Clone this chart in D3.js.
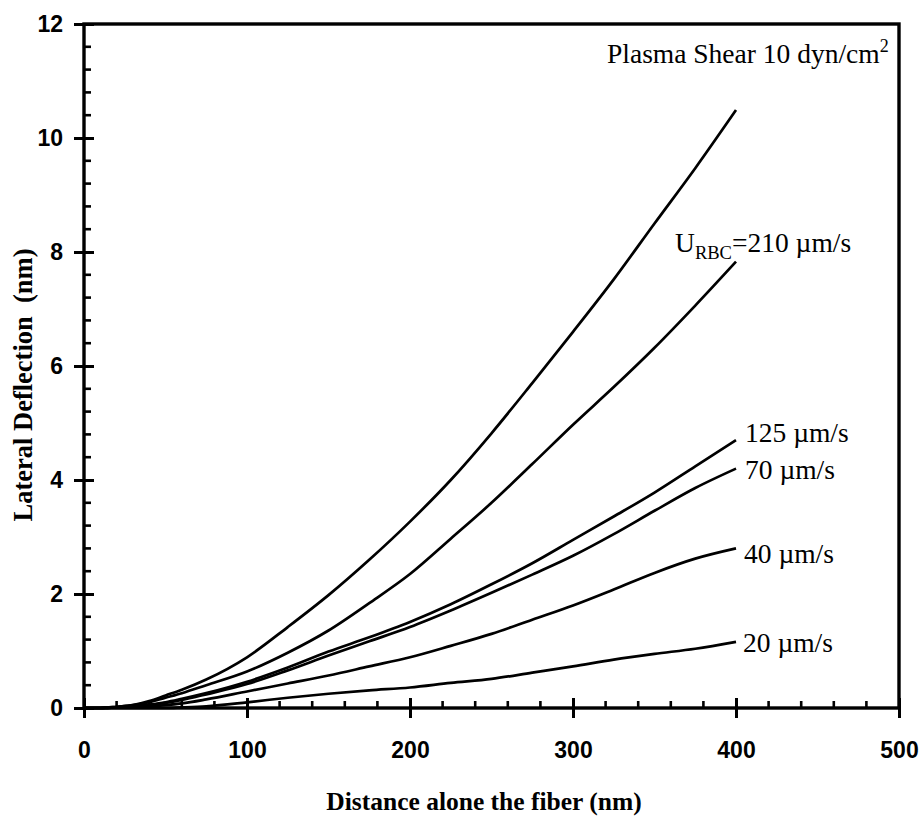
<!DOCTYPE html>
<html>
<head>
<meta charset="utf-8">
<script src="https://cdn.jsdelivr.net/npm/d3@7"></script>
<style>
  html, body { margin: 0; padding: 0; background: #fff; }
  svg { display: block; }
</style>
</head>
<body>
<svg id="chart" width="924" height="820"></svg>
<script>
// ---- data ----
const xValues = [0, 10, 20, 30, 40, 50, 60, 75, 100, 125, 150, 175, 200, 225, 250, 275, 300, 325, 350, 375, 400];
const plasmaShear = [0, 0, 0.02, 0.05, 0.12, 0.22, 0.32, 0.5, 0.89, 1.42, 1.98, 2.6, 3.27, 4.0, 4.82, 5.7, 6.6, 7.52, 8.5, 9.47, 10.49];
const u210 = [0, 0, 0.02, 0.05, 0.1, 0.18, 0.26, 0.4, 0.64, 0.97, 1.36, 1.84, 2.35, 2.97, 3.6, 4.28, 4.97, 5.63, 6.32, 7.06, 7.83];
const u125 = [0, 0, 0.01, 0.03, 0.06, 0.1, 0.16, 0.26, 0.46, 0.71, 0.99, 1.24, 1.51, 1.82, 2.17, 2.54, 2.95, 3.36, 3.78, 4.24, 4.70];
const u70 = [0, 0, 0.01, 0.03, 0.05, 0.09, 0.14, 0.24, 0.42, 0.66, 0.92, 1.17, 1.42, 1.71, 2.02, 2.34, 2.67, 3.05, 3.46, 3.86, 4.2];
const u40 = [0, 0, 0.01, 0.02, 0.03, 0.05, 0.08, 0.15, 0.29, 0.43, 0.57, 0.73, 0.89, 1.09, 1.30, 1.55, 1.80, 2.08, 2.37, 2.62, 2.80];
const u20 = [0, 0, 0, 0, 0, 0, 0.01, 0.03, 0.1, 0.18, 0.25, 0.31, 0.36, 0.44, 0.51, 0.62, 0.73, 0.85, 0.95, 1.04, 1.16];
const seriesNames = ["Plasma Shear 10 dyn/cm2", "URBC=210 µm/s", "125 µm/s", "70 µm/s", "40 µm/s", "20 µm/s"];
const xMajorTicks = [0, 100, 200, 300, 400, 500];
const yMajorTicks = [0, 2, 4, 6, 8, 10, 12];
const xMinorStep = 20;
const yMinorStep = 0.4;
const xTitle = "Distance alone the fiber (nm)";
const yTitle = "Lateral Deflection\u00a0\u00a0(nm)";

// ---- layout ----
const pLeft = 84, pRight = 899, pTop = 24, pBottom = 708;
const svg = d3.select("#chart");
const x = d3.scaleLinear().domain([0, 500]).range([pLeft, pRight]);
const y = d3.scaleLinear().domain([0, 12]).range([pBottom, pTop]);

const allSeries = [plasmaShear, u210, u125, u70, u40, u20];
const line = d3.line().x(d => x(d[0])).y(d => y(d[1])).curve(d3.curveMonotoneX);

allSeries.forEach(vals => {
  svg.append("path")
    .datum(xValues.map((xv, i) => [xv, vals[i]]))
    .attr("d", line)
    .attr("fill", "none")
    .attr("stroke", "#000")
    .attr("stroke-width", 2.7)
    .attr("stroke-linejoin", "round");
});

// frame
svg.append("rect")
  .attr("x", pLeft).attr("y", pTop)
  .attr("width", pRight - pLeft).attr("height", pBottom - pTop)
  .attr("fill", "none").attr("stroke", "#000").attr("stroke-width", 3.4);

// minor ticks
const xMinor = d3.range(0, 500 + 0.001, xMinorStep).filter(v => !xMajorTicks.includes(v));
const yMinor = d3.range(0, 12 + 0.001, yMinorStep).map(v => +v.toFixed(1)).filter(v => Math.abs(v / 2 - Math.round(v / 2)) > 0.01);

svg.append("g").selectAll("line").data(xMinor).join("line")
  .attr("x1", d => x(d)).attr("x2", d => x(d))
  .attr("y1", pBottom).attr("y2", pBottom - 7)
  .attr("stroke", "#000").attr("stroke-width", 2.6);
svg.append("g").selectAll("line").data(yMinor).join("line")
  .attr("x1", pLeft).attr("x2", pLeft + 7)
  .attr("y1", d => y(d)).attr("y2", d => y(d))
  .attr("stroke", "#000").attr("stroke-width", 2.6);

// major ticks + labels via d3 axes
const sans = "Liberation Sans, Arial, sans-serif";
const xAxis = svg.append("g").attr("transform", `translate(0,${pBottom})`)
  .call(d3.axisBottom(x).tickValues(xMajorTicks).tickSize(10).tickPadding(24).tickFormat(d3.format("d")));
xAxis.select(".domain").remove();
xAxis.selectAll(".tick line").attr("y1", -10).attr("stroke-width", 3);
xAxis.selectAll("text").attr("font-family", sans)
  .attr("font-weight", "bold").attr("font-size", 23).attr("fill", "#000");

const yAxis = svg.append("g").attr("transform", `translate(${pLeft},0)`)
  .call(d3.axisLeft(y).tickValues(yMajorTicks).tickSize(10).tickPadding(11).tickFormat(d3.format("d")));
yAxis.select(".domain").remove();
yAxis.selectAll(".tick line").attr("x1", 10).attr("stroke-width", 3);
yAxis.selectAll("text").attr("font-family", sans)
  .attr("font-weight", "bold").attr("font-size", 23).attr("fill", "#000");

// axis titles
const serif = "Liberation Serif, Times New Roman, serif";
svg.append("text")
  .attr("x", 484).attr("y", 810)
  .attr("text-anchor", "middle")
  .attr("font-family", serif)
  .attr("font-weight", "bold").attr("font-size", 25.5)
  .text(xTitle);
svg.append("text")
  .attr("transform", "translate(32,385) rotate(-90)")
  .attr("text-anchor", "middle")
  .attr("font-family", serif)
  .attr("font-weight", "bold").attr("font-size", 26.5)
  .text(yTitle);

// series labels
const lab = svg.append("g").attr("font-family", serif).attr("font-size", 27.5).attr("fill", "#000");

const t0 = lab.append("text").attr("x", 607).attr("y", 63);
t0.append("tspan").text("Plasma Shear 10 dyn/cm");
t0.append("tspan").attr("font-size", 18).attr("dy", -11).text("2");

const t1 = lab.append("text").attr("x", 675).attr("y", 252);
t1.append("tspan").text("U");
t1.append("tspan").attr("font-size", 18.5).attr("dy", 7).text("RBC");
t1.append("tspan").attr("dy", -7).text("=210 µm/s");

lab.append("text").attr("x", 745).attr("y", 442).text(seriesNames[2]);
lab.append("text").attr("x", 745).attr("y", 479).text(seriesNames[3]);
lab.append("text").attr("x", 744).attr("y", 563).text(seriesNames[4]);
lab.append("text").attr("x", 743).attr("y", 652).text(seriesNames[5]);
</script>
</body>
</html>
